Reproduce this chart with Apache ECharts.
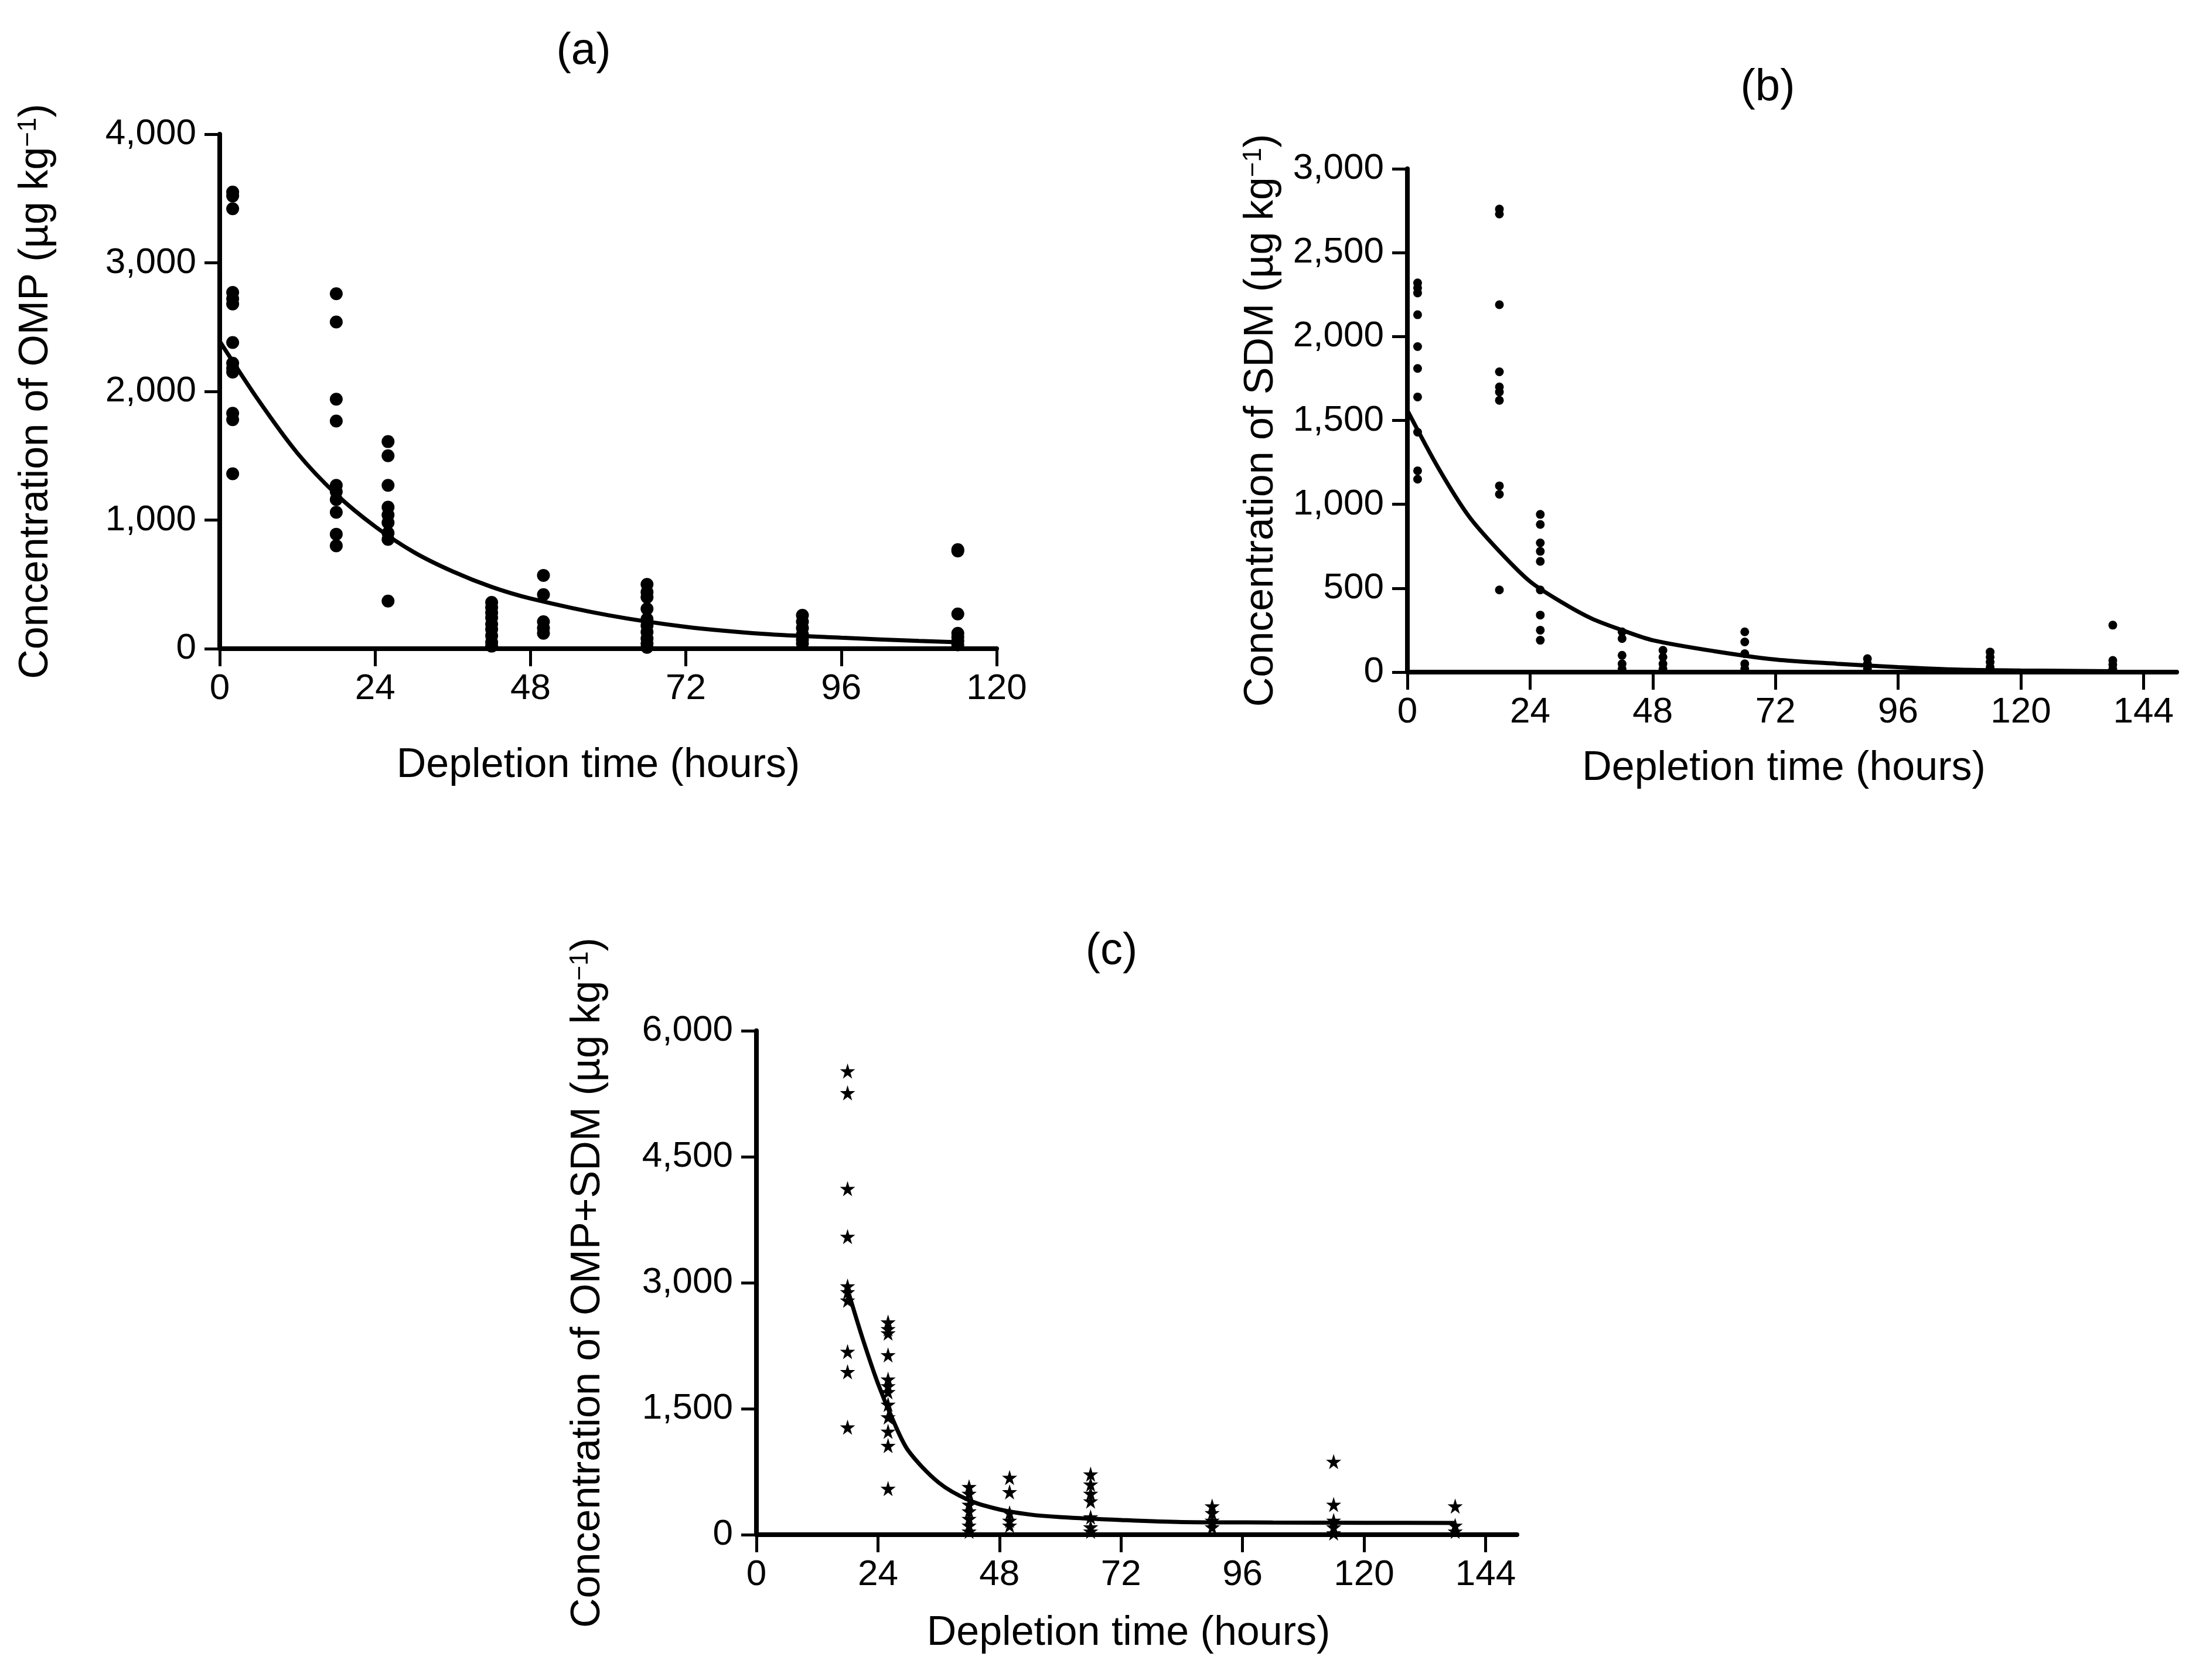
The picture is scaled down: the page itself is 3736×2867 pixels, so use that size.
<!DOCTYPE html>
<html>
<head>
<meta charset="utf-8">
<title>Depletion of OMP and SDM</title>
<script src="https://cdn.jsdelivr.net/npm/echarts/dist/echarts.min.js"></script>
<style>
  html, body { margin: 0; padding: 0; background: #fff; }
  #chart { width: 3736px; height: 2867px; }
</style>
</head>
<body>
<div id="chart"></div>
<script>
const FONT = '"Liberation Sans", Arial, sans-serif';

// (a) OMP, µg/kg, one list per sampling time
const ompTimes = [2, 18, 26, 42, 50, 66, 90, 114];
const ompValues = [
  [3550, 3520, 3420, 2770, 2720, 2680, 2380, 2220, 2180, 2150, 1830, 1780, 1360],
  [2760, 2540, 1940, 1770, 1270, 1220, 1160, 1060, 890, 800],
  [1610, 1500, 1270, 1100, 1040, 980, 900, 850, 370],
  [360, 320, 280, 240, 190, 150, 100, 50, 20],
  [570, 420, 210, 160, 120],
  [500, 440, 400, 310, 230, 180, 130, 80, 40, 10],
  [260, 210, 160, 110, 70, 40],
  [770, 760, 270, 120, 90, 60, 30]
];
// fitted curve
const ompFitTimes = [0, 6, 12, 18, 24, 30, 36, 42, 48, 60, 72, 84, 96, 108, 114];
const ompFitValues = [2390, 1930, 1520, 1200, 950, 750, 600, 480, 390, 260, 170, 115, 85, 60, 50];

// (b) SDM
const sdmTimes = [2, 18, 26, 42, 50, 66, 90, 114, 138];
const sdmValues = [
  [2320, 2290, 2260, 2130, 1940, 1810, 1640, 1430, 1200, 1150],
  [2760, 2730, 2190, 1790, 1700, 1670, 1620, 1110, 1060, 490],
  [940, 880, 770, 720, 660, 490, 340, 250, 190],
  [240, 200, 100, 50, 20],
  [130, 90, 50, 20],
  [240, 180, 110, 50, 20],
  [80, 50, 20],
  [120, 90, 60, 30],
  [280, 70, 45, 20]
];
const sdmFitTimes = [0, 6, 12, 18, 24, 30, 36, 42, 48, 60, 72, 84, 96, 108, 120, 138];
const sdmFitValues = [1560, 1220, 930, 720, 540, 420, 320, 250, 190, 125, 75, 50, 30, 15, 10, 5];

// (c) OMP+SDM
const mixTimes = [18, 26, 42, 50, 66, 90, 114, 138];
const mixValues = [
  [5520, 5260, 4120, 3550, 2960, 2890, 2790, 2180, 1940, 1280],
  [2530, 2450, 2400, 2140, 1850, 1770, 1700, 1550, 1400, 1230, 1060, 550],
  [570, 490, 360, 280, 190, 110, 40],
  [680, 510, 260, 170, 110],
  [720, 600, 490, 400, 210, 90, 40],
  [340, 260, 170, 90],
  [870, 360, 170, 90, 20],
  [340, 110, 40]
];
const mixFitTimes = [18.3, 21, 24, 27, 30, 36, 42, 48, 54, 60, 72, 84, 102, 120, 138];
const mixFitValues = [2860, 2330, 1800, 1360, 1000, 620, 410, 300, 240, 210, 175, 150, 145, 142, 140];

const xTicksA = [0, 24, 48, 72, 96, 120];
const xTicksBC = [0, 24, 48, 72, 96, 120, 144];
const yTicksA = [0, 1000, 2000, 3000, 4000];
const yTicksB = [0, 500, 1000, 1500, 2000, 2500, 3000];
const yTicksC = [0, 1500, 3000, 4500, 6000];

const STAR = 'path://M50,0 L61,35 L98,35 L68,57 L79,91 L50,70 L21,91 L32,57 L2,35 L39,35 Z';

function toPoints(times, values) {
  let pts = [];
  times.forEach(function (t, i) {
    values[i].forEach(function (v) { pts.push([t, v]); });
  });
  return pts;
}

function toLine(times, values) {
  return times.map(function (t, i) { return [t, values[i]]; });
}

function makeXAxis(gridIndex, max, ticks, nameGap, padRight) {
  return {
    type: 'value', gridIndex: gridIndex, min: 0, max: max,
    axisLine: { show: true, onZero: false, lineStyle: { color: '#000', width: 8 } },
    axisTick: { show: true, length: 30, customValues: ticks, lineStyle: { color: '#000', width: 5 } },
    axisLabel: { customValues: ticks, fontSize: 62, color: '#000', fontFamily: FONT, margin: 38 },
    splitLine: { show: false },
    name: 'Depletion time (hours)', nameLocation: 'middle', nameGap: nameGap,
    nameTextStyle: { fontSize: 70, color: '#000', fontFamily: FONT, padding: [0, padRight, 0, 0] }
  };
}

function makeYAxis(gridIndex, ticks, drug, nameGap) {
  return {
    type: 'value', gridIndex: gridIndex, min: 0, max: ticks[ticks.length - 1],
    axisLine: { show: true, onZero: false, lineStyle: { color: '#000', width: 8 } },
    axisTick: { show: true, length: 26, customValues: ticks, lineStyle: { color: '#000', width: 5 } },
    axisLabel: {
      customValues: ticks, fontSize: 62, color: '#000', fontFamily: FONT, margin: 40,
      formatter: function (v) { return v.toLocaleString('en-US'); }
    },
    splitLine: { show: false },
    name: 'Concentration of ' + drug + ' (µg kg{sup|−1})',
    nameLocation: 'middle', nameRotate: 90, nameGap: nameGap,
    nameTextStyle: {
      fontSize: 70, color: '#000', fontFamily: FONT,
      rich: { sup: { fontSize: 44, color: '#000', fontFamily: FONT, verticalAlign: 'top' } }
    }
  };
}

function scatterSeries(idx, data, symbol, size) {
  return {
    type: 'scatter', xAxisIndex: idx, yAxisIndex: idx, data: data,
    symbol: symbol, symbolSize: size, itemStyle: { color: '#000', opacity: 1 }, z: 3
  };
}

function fitSeries(idx, data) {
  return {
    type: 'line', xAxisIndex: idx, yAxisIndex: idx, data: data,
    smooth: 0.3, showSymbol: false, symbol: 'none',
    lineStyle: { color: '#000', width: 7 }, z: 2
  };
}

function panelLabel(text, x, y) {
  return {
    type: 'text', x: x, y: y,
    style: { text: text, fontSize: 76, fontFamily: FONT, fill: '#000', align: 'center', verticalAlign: 'middle' }
  };
}

const option = {
  backgroundColor: '#fff',
  animation: false,
  grid: [
    { left: 375, top: 229, width: 1326, height: 878 },
    { left: 2402, top: 288, width: 1313, height: 859 },
    { left: 1291, top: 1759, width: 1298, height: 860 }
  ],
  xAxis: [
    makeXAxis(0, 120, xTicksA, 165, 34),
    makeXAxis(1, 150.5, xTicksBC, 130, 28),
    makeXAxis(2, 150.2, xTicksBC, 134, 28)
  ],
  yAxis: [
    makeYAxis(0, yTicksA, 'OMP', 278),
    makeYAxis(1, yTicksB, 'SDM', 214),
    makeYAxis(2, yTicksC, 'OMP+SDM', 252)
  ],
  series: [
    fitSeries(0, toLine(ompFitTimes, ompFitValues)),
    scatterSeries(0, toPoints(ompTimes, ompValues), 'circle', 22),
    fitSeries(1, toLine(sdmFitTimes, sdmFitValues)),
    scatterSeries(1, toPoints(sdmTimes, sdmValues), 'circle', 15),
    fitSeries(2, toLine(mixFitTimes, mixFitValues)),
    scatterSeries(2, toPoints(mixTimes, mixValues), STAR, 26)
  ],
  graphic: [
    panelLabel('(a)', 996, 88),
    panelLabel('(b)', 3017, 150),
    panelLabel('(c)', 1897, 1624)
  ]
};

const myChart = echarts.init(document.getElementById('chart'));
myChart.setOption(option);
</script>
</body>
</html>
